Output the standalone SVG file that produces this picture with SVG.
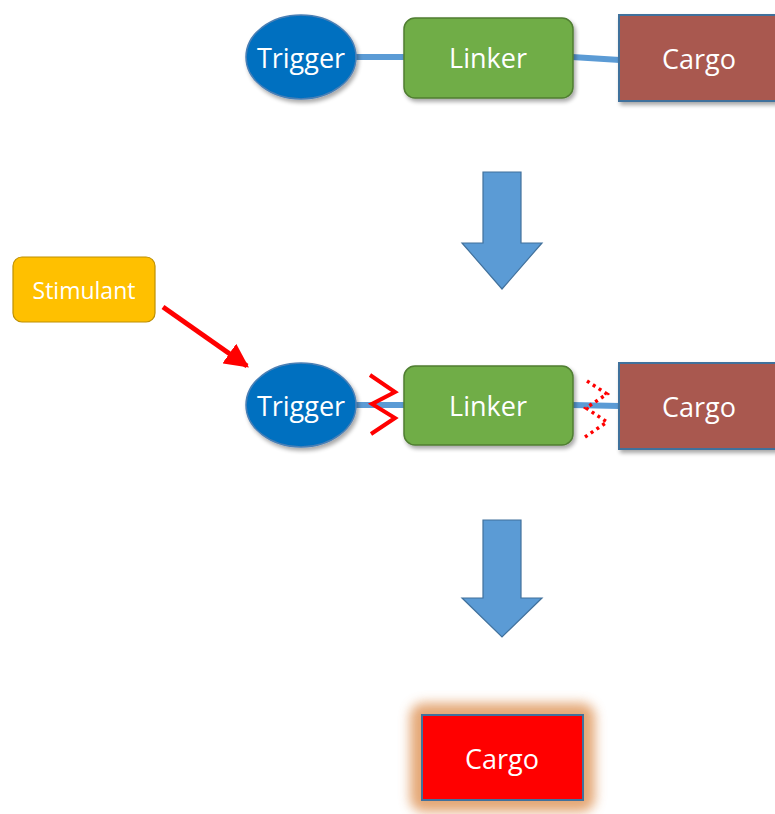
<svg xmlns="http://www.w3.org/2000/svg" width="775" height="814" viewBox="0 0 775 814">
<defs>
<style>
.lbl{font-family:"Open Sans","Liberation Sans",sans-serif;fill:#fff;text-anchor:middle;dominant-baseline:central}
.big{font-size:27px}
.link{stroke:#5B9BD5;stroke-width:6;fill:none}
.trig{fill:#0070C0;stroke:#4A7FB5;stroke-width:1.5}
.linker{fill:#70AD47;stroke:#507E32;stroke-width:1.5}
.cargo{fill:#A9584F;stroke:#41719C;stroke-width:2}
.down{fill:#5B9BD5;stroke:#41719C;stroke-width:1.2}
</style>
<filter id="sh" x="-20%" y="-20%" width="140%" height="150%">
<feGaussianBlur in="SourceAlpha" stdDeviation="2"/>
<feOffset dx="2" dy="3"/>
<feComponentTransfer><feFuncA type="linear" slope="0.35"/></feComponentTransfer>
<feMerge><feMergeNode/><feMergeNode in="SourceGraphic"/></feMerge>
</filter>
<filter id="glow" x="-30%" y="-40%" width="160%" height="180%">
<feGaussianBlur stdDeviation="6"/>
</filter>
<marker id="ah" viewBox="0 0 10 10" refX="9" refY="5" markerWidth="4.8" markerHeight="4.8" orient="auto" markerUnits="strokeWidth">
<path d="M0,0 L10,5 L0,10 z" fill="#FF0000"/>
</marker>
</defs>
<rect width="775" height="814" fill="#fff"/>
<g id="connectors">
<line class="link" x1="352" y1="57" x2="405" y2="57"/>
<line class="link" x1="572" y1="57" x2="620" y2="60"/>
<line class="link" x1="352" y1="405" x2="405" y2="405"/>
<line class="link" x1="572" y1="405" x2="620" y2="406"/>
<line x1="163" y1="307" x2="247" y2="366" stroke="#FF0000" stroke-width="5" marker-end="url(#ah)"/>
</g>
<g id="trigger1"><ellipse class="trig" cx="301" cy="57" rx="55" ry="42" filter="url(#sh)"/><text class="lbl big" x="301" y="57">Trigger</text></g>
<g id="linker1"><rect class="linker" x="404" y="18" width="169" height="80" rx="11" filter="url(#sh)"/><text class="lbl big" x="488" y="57">Linker</text></g>
<g id="cargo1"><rect class="cargo" x="619" y="15" width="160" height="86" filter="url(#sh)"/><text class="lbl big" x="699" y="58">Cargo</text></g>
<g id="arrow1"><path class="down" d="M483,172 H521 V243 H542 L502,289 L462,243 H483 Z"/></g>
<g id="stimulant"><rect x="13" y="257" width="142" height="65" rx="9" fill="#FFC000" stroke="#BF9000" stroke-width="1.2"/><text class="lbl" style="font-size:23px" x="84" y="290">Stimulant</text></g>
<g id="trigger2"><ellipse class="trig" cx="301" cy="405" rx="55" ry="42" filter="url(#sh)"/><text class="lbl big" x="301" y="405">Trigger</text></g>
<g id="linker2"><rect class="linker" x="404" y="366" width="169" height="79" rx="11" filter="url(#sh)"/><text class="lbl big" x="488" y="405">Linker</text></g>
<g id="cargo2"><rect class="cargo" x="619" y="363" width="160" height="86" filter="url(#sh)"/><text class="lbl big" x="699" y="406">Cargo</text></g>
<g id="cleave">
<polyline points="370,375 395,392 372,404 395,418 371,434" fill="none" stroke="#FF0000" stroke-width="4"/>
<polyline points="587,381 607,394 586,408 607,422 585,437" fill="none" stroke="#FF0000" stroke-width="3.5" stroke-dasharray="3,4"/>
</g>
<g id="arrow2"><path class="down" d="M483,520 H521 V598 H542 L502,637 L462,598 H483 Z"/></g>
<g id="cargo3">
<rect x="410" y="703" width="185" height="109" rx="14" fill="#E0995F" opacity="0.85" filter="url(#glow)"/>
<rect x="422" y="715" width="161" height="85" fill="#FF0000" stroke="#41719C" stroke-width="2"/>
<text class="lbl big" x="502" y="758">Cargo</text>
</g>
</svg>
